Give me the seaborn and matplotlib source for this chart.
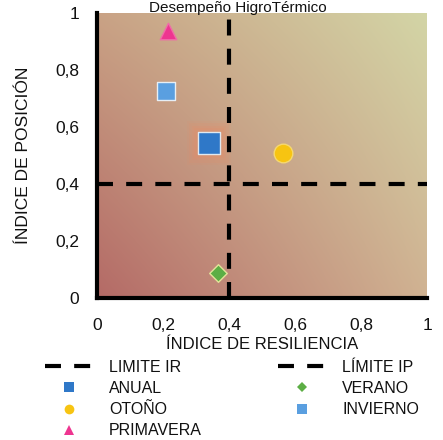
import numpy as np
import pandas as pd
import matplotlib
matplotlib.use("Agg")
import matplotlib.pyplot as plt
from matplotlib.lines import Line2D
import seaborn as sns

sns.set_theme(style="white")
plt.rcParams["font.family"] = ["Liberation Sans", "DejaVu Sans"]
plt.rcParams["lines.scale_dashes"] = False

# --- data -------------------------------------------------------------
estaciones = ["ANUAL", "VERANO", "OTOÑO", "INVIERNO", "PRIMAVERA"]
indice_resiliencia = [0.34, 0.367, 0.564, 0.209, 0.215]
indice_posicion = [0.544, 0.088, 0.509, 0.726, 0.937]
limite_ir = 0.4
limite_ip = 0.4
ticks = [0, 0.2, 0.4, 0.6, 0.8, 1]
tick_labels = ["0", "0,2", "0,4", "0,6", "0,8", "1"]

# --- styles -----------------------------------------------------------
colores = {"ANUAL": "#2f78c8", "VERANO": "#5cae45", "OTOÑO": "#f7c412",
           "INVIERNO": "#5a9fe0", "PRIMAVERA": "#ee3590"}
marcadores = {"ANUAL": "s", "VERANO": "D", "OTOÑO": "o",
              "INVIERNO": "s", "PRIMAVERA": "^"}
tamanos = {"ANUAL": 230, "VERANO": 80, "OTOÑO": 180,
           "INVIERNO": 170, "PRIMAVERA": 140}
bordes = {"ANUAL": "#dfe8f0", "VERANO": "#e4e49a", "OTOÑO": "#f5d870",
          "INVIERNO": "#e6eef5", "PRIMAVERA": "#f06aa8"}

df = pd.DataFrame({"estacion": estaciones,
                   "ir": indice_resiliencia,
                   "ip": indice_posicion})

fig = plt.figure(figsize=(4.43, 4.40), dpi=100)
ax = fig.add_axes([97 / 443, (440 - 298) / 440, 330 / 443, 285 / 440])

# diagonal background gradient (reddish bottom-left to khaki top-right)
c_tl = np.array([201, 162, 133]) / 255
c_tr = np.array([211, 213, 166]) / 255
c_bl = np.array([180, 106, 102]) / 255
c_br = np.array([208, 178, 146]) / 255
u = np.linspace(0, 1, 200)[None, :, None]
v = np.linspace(1, 0, 200)[:, None, None]
grad = ((1 - u) * (1 - v) * c_bl + u * (1 - v) * c_br
        + (1 - u) * v * c_tl + u * v * c_tr)
ax.imshow(grad, extent=(0, 1, 0, 1), aspect="auto", zorder=0,
          interpolation="bilinear")

# soft orange glow behind the annual marker
anual = df[df["estacion"] == "ANUAL"]
for s, a in [(1000, 0.08), (800, 0.11), (620, 0.14), (480, 0.16)]:
    sns.scatterplot(data=anual, x="ir", y="ip", marker="s", s=s,
                    color="#f08a62", alpha=a, linewidth=0, ax=ax,
                    legend=False, zorder=1.5)

dash = (0, (11.5, 9.5))
ax.axvline(limite_ir, color="black", lw=3, ls=dash, zorder=2)
ax.axhline(limite_ip, color="black", lw=3, ls=dash, zorder=2)

for est in estaciones:
    sub = df[df["estacion"] == est]
    sns.scatterplot(data=sub, x="ir", y="ip", marker=marcadores[est],
                    s=tamanos[est], color=colores[est],
                    edgecolor=bordes[est], linewidth=1.0, ax=ax,
                    legend=False, zorder=3)

ax.set_xlim(0, 1)
ax.set_ylim(0, 1)
ax.set_xticks(ticks)
ax.set_xticklabels(tick_labels)
ax.set_yticks(ticks)
ax.set_yticklabels(tick_labels)
ax.tick_params(axis="x", direction="in", length=4, width=2.5,
               color="black", pad=14.5, labelsize=12.5, labelcolor="#111111")
ax.tick_params(axis="y", direction="in", length=4, width=2.5,
               color="black", pad=13, labelsize=12.5, labelcolor="#111111")
for side in ["top", "right"]:
    ax.spines[side].set_visible(False)
for side in ["left", "bottom"]:
    ax.spines[side].set_linewidth(3)
    ax.spines[side].set_color("black")

ax.set_xlabel("ÍNDICE DE RESILIENCIA", fontsize=12, labelpad=2.5,
              color="#111111")
ax.set_ylabel("ÍNDICE DE POSICIÓN", fontsize=12.5, labelpad=17,
              color="#111111")

fig.text(238 / 443, 1 - 1 / 440, "Desempeño HigroTérmico", ha="center",
         va="top", fontsize=11, color="#111111")

# legend, two columns below the axes
def linea():
    return Line2D([], [], color="black", lw=3, ls=dash)

def marca(est, ms):
    return Line2D([], [], ls="none", marker=marcadores[est], ms=ms,
                  color=colores[est], markeredgewidth=0)

handles = [linea(), marca("ANUAL", 7), marca("OTOÑO", 7),
           marca("PRIMAVERA", 7), linea(), marca("VERANO", 5),
           marca("INVIERNO", 7)]
labels = ["LIMITE IR", "ANUAL", "OTOÑO", "PRIMAVERA",
          "LÍMITE IP", "VERANO", "INVIERNO"]
fig.legend(handles, labels, ncol=2, loc="upper left",
           bbox_to_anchor=(45 / 443, 1 - 360 / 440), frameon=False,
           fontsize=11.5, handlelength=3.0, handletextpad=1.0,
           columnspacing=4.8, labelspacing=0.38, borderpad=0,
           borderaxespad=0, labelcolor="#111111")

fig.savefig("out.png", dpi=100)
